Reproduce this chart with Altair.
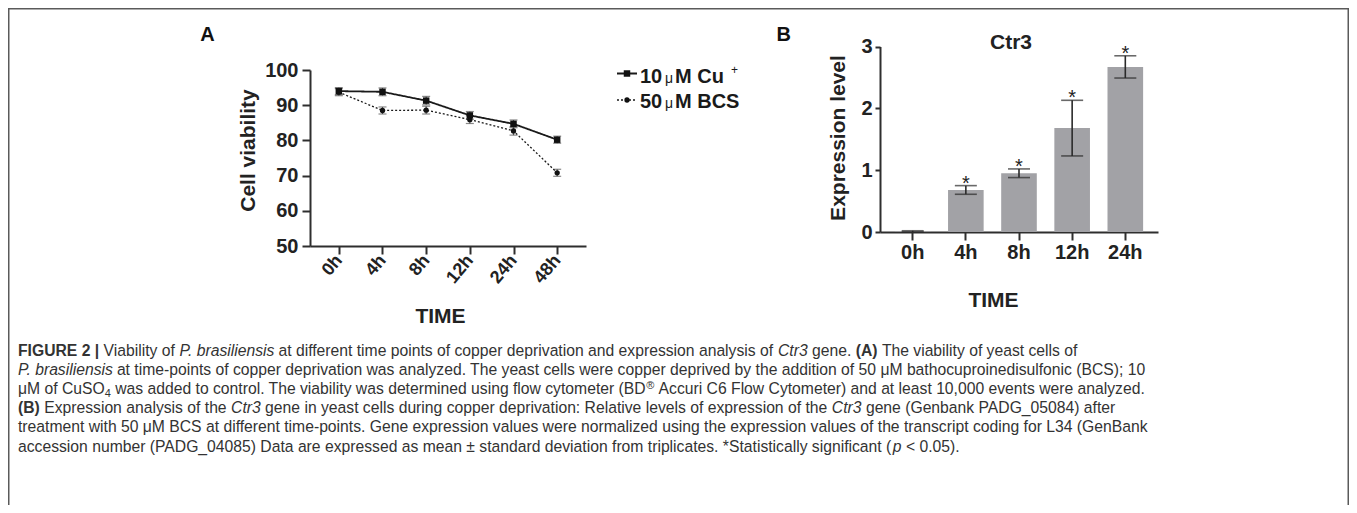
import altair as alt
import pandas as pd

FONT = "Liberation Sans"
W, H = 1341, 497

# ---------------- data: panel A (cell viability) ----------------
times_a = ["0h", "4h", "8h", "12h", "24h", "48h"]
series = ["10 μM Cu+", "50 μM BCS"]
cu_mean = [94.0, 93.8, 91.3, 87.1, 84.7, 80.2]
cu_sd = [1.0, 1.1, 1.2, 1.1, 1.1, 1.0]
bcs_mean = [93.7, 88.5, 88.6, 85.9, 82.7, 70.8]
bcs_sd = [1.0, 1.0, 1.1, 1.1, 1.2, 1.0]

# ---------------- data: panel B (Ctr3 expression) ----------------
times_b = ["0h", "4h", "8h", "12h", "24h"]
ctr3_mean = [0.01, 0.68, 0.95, 1.68, 2.67]
ctr3_sd = [0.01, 0.07, 0.07, 0.45, 0.18]
ctr3_sig = ["", "*", "*", "*", "*"]

# ---------------- caption text ----------------
caption_lines = [
    [("b", "FIGURE 2 | "), ("r", "Viability of "), ("i", "P. brasiliensis"),
     ("r", " at different time points of copper deprivation and expression analysis of "),
     ("i", "Ctr3"), ("r", " gene. "), ("b", "(A)"), ("r", " The viability of yeast cells of")],
    [("i", "P. brasiliensis"),
     ("r", " at time-points of copper deprivation was analyzed. The yeast cells were copper deprived by the addition of 50 μM bathocuproinedisulfonic (BCS); 10")],
    [("r", "μM of CuSO"), ("sub", "4"),
     ("r", " was added to control. The viability was determined using flow cytometer (BD"),
     ("sup", "®"), ("r", " Accuri C6 Flow Cytometer) and at least 10,000 events were analyzed.")],
    [("b", "(B)"), ("r", " Expression analysis of the "), ("i", "Ctr3"),
     ("r", " gene in yeast cells during copper deprivation: Relative levels of expression of the "),
     ("i", "Ctr3"), ("r", " gene (Genbank PADG_05084) after")],
    [("r", "treatment with 50 μM BCS at different time-points. Gene expression values were normalized using the expression values of the transcript coding for L34 (GenBank")],
    [("r", "accession number (PADG_04085) Data are expressed as mean ± standard deviation from triplicates. *Statistically significant ("),
     ("i", "p"), ("r", " < 0.05).")],
]

# ---------------- font metrics (Arial / Liberation Sans, units per 1000) ----------------
REG = {}
BOLD = {}
_lo = "abcdefghijklmnopqrstuvwxyz"
_up = "ABCDEFGHIJKLMNOPQRSTUVWXYZ"
for c, w in zip(_lo, [556, 556, 500, 556, 556, 278, 556, 556, 222, 222, 500, 222, 833, 556, 556, 556, 556, 333, 500, 278, 556, 500, 722, 500, 500, 500]):
    REG[c] = w
for c, w in zip(_up, [667, 667, 722, 722, 667, 611, 778, 722, 278, 500, 667, 556, 833, 722, 778, 667, 778, 722, 667, 611, 722, 667, 944, 667, 667, 611]):
    REG[c] = w
for c, w in zip(_lo, [556, 611, 556, 611, 556, 333, 611, 611, 278, 278, 556, 278, 889, 611, 611, 611, 611, 389, 556, 333, 611, 556, 778, 556, 556, 500]):
    BOLD[c] = w
for c, w in zip(_up, [722, 722, 722, 722, 667, 611, 778, 722, 278, 556, 722, 611, 833, 722, 778, 667, 778, 722, 667, 611, 722, 667, 944, 667, 667, 611]):
    BOLD[c] = w
_common = {" ": 278, ".": 278, ",": 278, "(": 333, ")": 333, ";": 278, ":": 278, "_": 556,
           "-": 333, "|": 260, "*": 389, "±": 549, "<": 584, "®": 737, "μ": 576, "+": 584}
for d in "0123456789":
    _common[d] = 556
for k, v in _common.items():
    REG.setdefault(k, v)
    BOLD.setdefault(k, v)
BOLD["|"] = 280
BOLD[";"] = 333
BOLD[":"] = 333
KERN = {"P.": -152, "P,": -152}


def units(text, style):
    tab = BOLD if style == "b" else REG
    total = sum(tab.get(c, 556) for c in text)
    total += sum(KERN.get(text[k:k + 2], 0) for k in range(len(text) - 1))
    return total


# caption font size chosen so that the third line spans the measured width
SMALL = 0.7
line3_units = sum(units(t, s) * (SMALL if s in ("sub", "sup") else 1) for s, t in caption_lines[2])
fs_cap = 1127 * 1000 / line3_units
fs_small = fs_cap * SMALL
cap_x0 = 10
cap_baselines = [348, 367.1, 386.2, 405.3, 424.4, 443.5]

cap_rows = []
for line, base in zip(caption_lines, cap_baselines):
    x = cap_x0
    for style, text in line:
        size = fs_small if style in ("sub", "sup") else fs_cap
        lead = len(text) - len(text.lstrip(" "))
        trail = len(text) - len(text.rstrip(" "))
        core = text.strip(" ")
        x += lead * 278 / 1000 * size
        dy = 3 if style == "sub" else (-5 if style == "sup" else 0)
        if core:
            cap_rows.append({"px": x, "py": base + dy, "t": core, "style": style})
        x += units(core, style) / 1000 * size
        x += trail * 278 / 1000 * size
cap_df = pd.DataFrame(cap_rows)


def text_layer(df, size, weight="normal", style="normal", align="left", color="#222"):
    return alt.Chart(df).mark_text(
        font=FONT, fontSize=size, fontWeight=weight, fontStyle=style,
        align=align, baseline="alphabetic", color=color
    ).encode(
        x=alt.X("px:Q", scale=None, axis=None),
        y=alt.Y("py:Q", scale=None, axis=None),
        text="t:N",
    )


cap_layers = [
    text_layer(cap_df[cap_df["style"] == "r"], fs_cap, color="#333"),
    text_layer(cap_df[cap_df["style"] == "i"], fs_cap, style="italic", color="#333"),
    text_layer(cap_df[cap_df["style"] == "b"], fs_cap, weight="bold", color="#333"),
    text_layer(cap_df[cap_df["style"].isin(["sub", "sup"])], fs_small, color="#333"),
]

# ---------------- frame ----------------
frame_df = pd.DataFrame({
    "x": [0, 0.75, W - 0.75], "x2": [W, 0.75, W - 0.75],
    "y": [0.75, 0, 0], "y2": [0.75, H, H],
})
frame = alt.Chart(frame_df).mark_rule(color="#5a5a5a", strokeWidth=1.5).encode(
    x=alt.X("x:Q", scale=None, axis=None), x2="x2:Q",
    y=alt.Y("y:Q", scale=None, axis=None), y2="y2:Q",
)

# ---------------- panel A ----------------
rows = []
for name, means, sds in zip(series, [cu_mean, bcs_mean], [cu_sd, bcs_sd]):
    for t, m, s in zip(times_a, means, sds):
        rows.append({"time": t, "series": name, "mean": m, "lo": m - s, "hi": m + s})
dfA = pd.DataFrame(rows)

sc_ax = alt.Scale(type="point", domain=times_a, range=[302, 578], padding=0.66)
sc_ay = alt.Scale(domain=[50, 100], range=[238, 62], nice=False, zero=False)
ax_ax = alt.Axis(title="TIME", orient="bottom", offset=238 - H, labelAngle=310,
                 labelAlign="right", labelBaseline="middle", labelFontSize=18,
                 labelPadding=3, tickSize=8, titleFontSize=21, titleX=432, titleY=70,
                 titleAlign="center", titleBaseline="middle")
ax_ay = alt.Axis(title="Cell viability", orient="left", offset=-302,
                 values=[50, 60, 70, 80, 90, 100], labelFontSize=20, labelPadding=4,
                 tickSize=8, titleFontSize=21, titleX=-62, titleY=142, titleAngle=270,
                 titleAlign="center", titleBaseline="middle")
xA = alt.X("time:N", scale=sc_ax, axis=ax_ax)
dash_sc = alt.Scale(domain=series, range=[[1, 0], [2, 2]])
sw_sc = alt.Scale(domain=series, range=[1.8, 1.3])
shape_sc = alt.Scale(domain=series, range=["square", "circle"])
size_sc = alt.Scale(domain=series, range=[42, 28])

errA = alt.Chart(dfA).mark_rule(color="#555", strokeWidth=1.2).encode(
    x=xA, y=alt.Y("lo:Q", scale=sc_ay, axis=ax_ay), y2="hi:Q")
capA_lo = alt.Chart(dfA).mark_tick(color="#555", size=8, thickness=1.2).encode(
    x=xA, y=alt.Y("lo:Q", scale=sc_ay, axis=ax_ay))
capA_hi = alt.Chart(dfA).mark_tick(color="#555", size=8, thickness=1.2).encode(
    x=xA, y=alt.Y("hi:Q", scale=sc_ay, axis=ax_ay))
linesA = alt.Chart(dfA).mark_line(color="#1a1a1a").encode(
    x=xA, y=alt.Y("mean:Q", scale=sc_ay, axis=ax_ay),
    strokeDash=alt.StrokeDash("series:N", scale=dash_sc, legend=None),
    strokeWidth=alt.StrokeWidth("series:N", scale=sw_sc, legend=None),
)
pointsA = alt.Chart(dfA).mark_point(filled=True, opacity=1, color="#111").encode(
    x=xA, y=alt.Y("mean:Q", scale=sc_ay, axis=ax_ay),
    shape=alt.Shape("series:N", scale=shape_sc, legend=None),
    size=alt.Size("series:N", scale=size_sc, legend=None),
)
panelA = alt.layer(errA, capA_lo, capA_hi, linesA, pointsA)

# ---------------- panel B ----------------
dfB = pd.DataFrame({
    "time": times_b, "mean": ctr3_mean,
    "lo": [m - s for m, s in zip(ctr3_mean, ctr3_sd)],
    "hi": [m + s for m, s in zip(ctr3_mean, ctr3_sd)],
    "sig": ctr3_sig,
})
sc_bx = alt.Scale(type="band", domain=times_b, range=[872, 1150], paddingInner=0.33, paddingOuter=0.28)
sc_by = alt.Scale(domain=[0, 3], range=[224, 38.5], nice=False, zero=True)
ax_bx = alt.Axis(title="TIME", orient="bottom", offset=224 - H, labelAngle=0,
                 labelFontSize=20, labelPadding=2, tickSize=8, titleFontSize=21,
                 titleX=985, titleY=68, titleAlign="center", titleBaseline="middle")
ax_by = alt.Axis(title="Expression level", orient="left", offset=-872, values=[0, 1, 2, 3],
                 labelFontSize=20, labelPadding=3, tickSize=5, titleFontSize=21,
                 titleX=-42, titleY=129.5, titleAngle=270, titleAlign="center",
                 titleBaseline="middle")
xB = alt.X("time:N", scale=sc_bx, axis=ax_bx)

bars = alt.Chart(dfB).mark_bar(color="#a2a2a6").encode(
    x=xB, y=alt.Y("mean:Q", scale=sc_by, axis=ax_by))
errB = alt.Chart(dfB).mark_rule(color="#2a2a2a", strokeWidth=1.6).encode(
    x=xB, y=alt.Y("lo:Q", scale=sc_by, axis=ax_by), y2="hi:Q")
capB_lo = alt.Chart(dfB).mark_tick(color="#2a2a2a", size=22, thickness=1.6).encode(
    x=xB, y=alt.Y("lo:Q", scale=sc_by, axis=ax_by))
capB_hi = alt.Chart(dfB).mark_tick(color="#2a2a2a", size=22, thickness=1.6).encode(
    x=xB, y=alt.Y("hi:Q", scale=sc_by, axis=ax_by))
starsB = alt.Chart(dfB).mark_text(font=FONT, fontSize=20, color="#222",
                                  baseline="alphabetic", dy=4).encode(
    x=xB, y=alt.Y("hi:Q", scale=sc_by, axis=ax_by), text="sig:N")
panelB = alt.layer(bars, errB, capB_lo, capB_hi, starsB)

# ---------------- panel labels & title ----------------
lab_df = pd.DataFrame({"t": ["A", "B"], "px": [199.5, 775.7], "py": [32.7, 32.7]})
title_df = pd.DataFrame({"t": ["Ctr3"], "px": [1003], "py": [40.5]})
labels = [
    text_layer(lab_df, 20, weight="bold", align="center", color="#111"),
    text_layer(title_df, 21, weight="bold", align="center", color="#222"),
]

# ---------------- custom legend for panel A ----------------
leg_df = pd.DataFrame({"series": series, "x1": [609, 609], "x2": [629, 629],
                       "y": [65.5, 92], "xs": [619, 619]})
leg_rules = alt.Chart(leg_df).mark_rule(color="#1a1a1a").encode(
    x=alt.X("x1:Q", scale=None, axis=None), x2="x2:Q",
    y=alt.Y("y:Q", scale=None, axis=None),
    strokeDash=alt.StrokeDash("series:N", scale=dash_sc, legend=None),
    strokeWidth=alt.StrokeWidth("series:N", scale=sw_sc, legend=None),
)
leg_pts = alt.Chart(leg_df).mark_point(filled=True, opacity=1, color="#111").encode(
    x=alt.X("xs:Q", scale=None, axis=None), y=alt.Y("y:Q", scale=None, axis=None),
    shape=alt.Shape("series:N", scale=shape_sc, legend=None),
    size=alt.Size("series:N", scale=size_sc, legend=None),
)
leg_bold = pd.DataFrame({"t": ["10", "M Cu", "50", "M BCS"],
                         "px": [632, 667, 632, 667], "py": [74.7, 74.7, 100.3, 100.3]})
leg_mu = pd.DataFrame({"t": ["μ", "μ"], "px": [657, 657], "py": [74.7, 100.3]})
leg_sup = pd.DataFrame({"t": ["+"], "px": [723], "py": [65.5]})
leg_texts = [
    text_layer(leg_bold, 20, weight="bold", color="#1a1a1a"),
    text_layer(leg_mu, 14, color="#1a1a1a"),
    text_layer(leg_sup, 12, color="#1a1a1a"),
]

chart = alt.layer(
    frame, *cap_layers, panelA, panelB, *labels, leg_rules, leg_pts, *leg_texts
).resolve_scale(
    x="independent", y="independent"
).properties(
    width=W, height=H, padding=0, autosize=alt.AutoSizeParams(type="none"),
    background="white",
).configure_view(
    strokeWidth=0
).configure_axis(
    labelFont=FONT, titleFont=FONT, labelFontWeight="bold", titleFontWeight="bold",
    labelColor="#222", titleColor="#222", domainColor="#2e2e2e", tickColor="#2e2e2e",
    domainWidth=2, tickWidth=2, grid=False,
)

chart.save("out.html", embed_options={"renderer": "svg", "actions": False})
